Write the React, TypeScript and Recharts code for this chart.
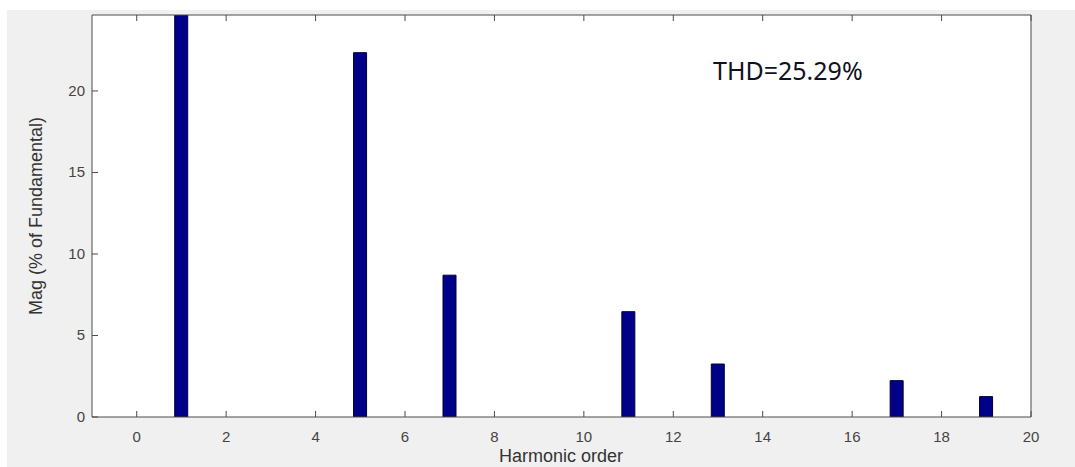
import { Bar, BarChart, XAxis, YAxis } from "recharts";

// harmonic spectrum, % of fundamental (fundamental runs off the top)
const orders = [1, 5, 7, 11, 13, 17, 19];
const magnitudes = [100, 22.35, 8.7, 6.46, 3.25, 2.23, 1.25];
const xTicks = [0, 2, 4, 6, 8, 10, 12, 14, 16, 18, 20];
const yTicks = [0, 5, 10, 15, 20];
const thdLabel = "THD=25.29%";

const data = orders.map((h, i) => ({ order: h, mag: magnitudes[i] }));

const AXIS = "#4a4a4a";
const FONT = "'Liberation Sans', Arial, sans-serif";

const bottomTick = (p: any) => (
  <g>
    <line x1={p.x} x2={p.x} y1={p.y} y2={p.y - 6} stroke={AXIS} />
    <text x={p.x} y={p.y + 25} textAnchor="middle" fontSize={15} fill="#444" fontFamily={FONT}>
      {p.payload.value}
    </text>
  </g>
);

// top / right axes only carry the inward ticks of the box
const topTick = (p: any) => (
  <line x1={p.x} x2={p.x} y1={p.y} y2={p.y + 6} stroke={AXIS} />
);

const leftTick = (p: any) => (
  <g>
    <line x1={p.x} x2={p.x + 6} y1={p.y} y2={p.y} stroke={AXIS} />
    <text x={p.x - 7} y={p.y + 5} textAnchor="end" fontSize={15} fill="#444" fontFamily={FONT}>
      {p.payload.value}
    </text>
  </g>
);

const rightTick = (p: any) => (
  <line x1={p.x} x2={p.x - 6} y1={p.y} y2={p.y} stroke={AXIS} />
);

export default function App() {
  return (
    <div style={{ position: "absolute", left: 0, top: 0, width: 1075, height: 467, background: "#fff", overflow: "hidden" }}>
      <div style={{ position: "absolute", left: 7, top: 10, right: 0, bottom: 0, background: "#f0f0f0" }} />
      <div style={{ position: "absolute", left: 92, top: 15, width: 939, height: 402, background: "#fff" }} />
      <div style={{ position: "absolute", left: 0, top: 0 }}>
        <BarChart width={1075} height={467} data={data} margin={{ top: 14, right: 43, bottom: 0, left: 0 }}>
          <XAxis
            xAxisId="b"
            dataKey="order"
            type="number"
            domain={[-1, 20]}
            ticks={xTicks}
            allowDataOverflow
            height={50}
            axisLine={{ stroke: AXIS }}
            tickLine={false}
            tickSize={0}
            tickMargin={0}
            tick={bottomTick}
            interval={0}
          />
          <XAxis
            xAxisId="t"
            orientation="top"
            dataKey="order"
            type="number"
            domain={[-1, 20]}
            ticks={xTicks}
            height={1}
            axisLine={{ stroke: AXIS }}
            tickLine={false}
            tickSize={0}
            tickMargin={0}
            tick={topTick}
            interval={0}
          />
          <YAxis
            yAxisId="l"
            type="number"
            domain={[0, 24.66]}
            ticks={yTicks}
            allowDataOverflow
            width={92}
            axisLine={{ stroke: AXIS }}
            tickLine={false}
            tickSize={0}
            tickMargin={0}
            tick={leftTick}
            interval={0}
            label={{
              value: "Mag (% of Fundamental)",
              angle: -90,
              position: "insideLeft",
              offset: 36,
              style: { textAnchor: "middle", fontSize: 18, fill: "#333", fontFamily: FONT },
            }}
          />
          <YAxis
            yAxisId="r"
            orientation="right"
            type="number"
            domain={[0, 24.66]}
            ticks={yTicks}
            width={1}
            axisLine={{ stroke: AXIS }}
            tickLine={false}
            tickSize={0}
            tickMargin={0}
            tick={rightTick}
            interval={0}
          />
          <Bar
            xAxisId="b"
            yAxisId="l"
            dataKey="mag"
            barSize={13}
            fill="#000088"
            stroke="#000033"
            strokeWidth={1}
            isAnimationActive={false}
          />
          <text x={561} y={462} textAnchor="middle" fontSize={18} fill="#333" fontFamily={FONT}>
            Harmonic order
          </text>
          <text x={713} y={80} fontSize={25} fill="#111122" fontFamily="'Noto Sans', 'Open Sans', sans-serif">
            {thdLabel}
          </text>
        </BarChart>
      </div>
    </div>
  );
}
